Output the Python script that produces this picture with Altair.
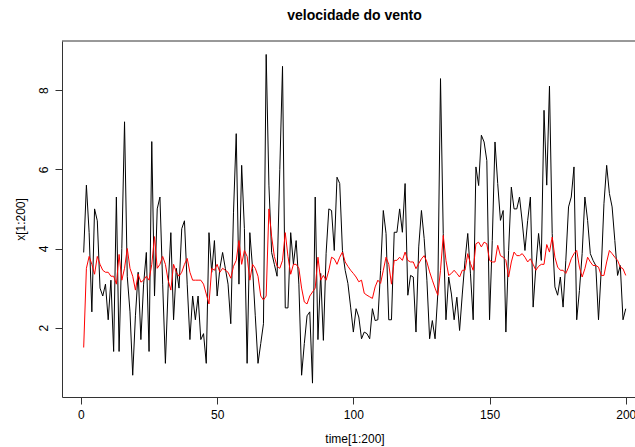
import altair as alt
import pandas as pd

# ---- data ----
time = list(range(1, 201))

wind = [
    3.9, 5.6, 4.4, 2.4, 5.0, 4.7, 3.0, 2.8, 3.1, 2.2,
    3.2, 1.4, 5.3, 1.4, 4.0, 7.2, 3.3, 2.4, 0.8, 2.3,
    3.4, 1.7, 3.1, 3.9, 1.4, 6.7, 2.8, 5.0, 5.3, 3.1,
    1.1, 3.0, 4.4, 2.2, 3.5, 3.0, 4.5, 4.7, 3.1, 1.7,
    2.8, 2.2, 2.8, 1.7, 1.85, 1.1, 4.4, 3.4, 4.2, 2.8,
    3.5, 3.9, 3.5, 3.1, 2.1, 4.9, 6.9, 3.1, 6.1, 4.5,
    1.1, 4.4, 3.5, 2.3, 1.1, 1.6, 2.1, 8.9, 5.6, 3.9,
    3.6, 3.3, 6.0, 8.6, 2.5, 2.5, 4.4, 3.6, 4.2, 3.1,
    0.8, 1.6, 2.3, 2.4, 0.6, 5.3, 1.7, 3.37, 1.68, 3.88,
    5.0, 4.96, 3.95, 5.8, 5.64, 3.95, 3.45, 3.12, 2.52, 1.89,
    2.48, 2.27, 1.72, 1.89, 1.85, 1.72, 2.48, 2.18, 2.2, 3.45,
    4.96, 4.38, 2.2, 2.2, 4.41, 4.41, 5.0, 4.41, 5.64, 2.82,
    3.32, 3.28, 1.89, 4.04, 4.96, 4.25, 3.2, 1.72, 2.18, 1.72,
    2.85, 8.29, 4.38, 2.2, 3.28, 2.85, 2.2, 2.77, 1.93, 2.85,
    3.7, 4.38, 3.36, 2.2, 6.06, 5.59, 6.86, 6.69, 6.22, 2.2,
    4.2, 6.69, 5.64, 4.71, 4.96, 1.89, 3.95, 5.55, 5.0, 5.0,
    5.3, 4.67, 3.95, 4.71, 5.3, 2.52, 3.53, 4.38, 3.7, 7.49,
    5.6, 8.1, 4.38, 3.03, 2.82, 3.28, 2.52, 3.7, 5.05, 5.3,
    6.06, 2.2, 2.94, 3.87, 5.3, 4.71, 3.87, 3.7, 3.57, 2.2,
    3.45, 5.13, 6.1, 5.39, 5.05, 4.2, 3.32, 3.57, 2.2, 2.48,
]

smooth = [
    1.5, 3.5, 3.8, 3.6, 3.35, 3.8, 3.6, 3.45, 3.4, 3.4,
    3.3, 3.3, 3.1, 3.85, 3.2, 3.5, 4.0, 3.5, 3.3, 2.95,
    3.35, 3.15, 3.2, 3.3, 3.2, 3.6, 4.3, 3.5, 3.6, 3.8,
    3.6, 3.2, 2.95, 3.6, 3.4, 3.3, 3.4, 3.6, 3.75, 3.4,
    3.2, 3.2, 3.2, 3.2, 3.1, 2.85, 2.6, 3.5, 3.45, 3.6,
    3.4, 3.5, 3.45, 3.4, 3.25, 3.55, 3.7, 4.2, 3.6, 3.95,
    3.8, 3.2, 3.6, 3.5, 3.3, 2.8, 2.7, 2.8, 5.0, 4.3,
    3.8, 3.55, 3.5, 3.7, 4.4, 3.8, 3.35, 3.6, 3.6, 3.5,
    3.0, 2.65, 2.6, 2.8, 2.9, 3.0, 3.78, 3.2, 3.32, 3.2,
    3.45, 3.78, 3.74, 3.6, 3.78, 3.91, 3.66, 3.55, 3.45, 3.37,
    3.28, 3.16, 3.2, 2.87, 2.82, 2.78, 2.74, 3.03, 3.2, 3.12,
    3.45, 3.78, 3.6, 3.1, 3.7, 3.7, 3.78, 3.7, 3.91, 3.7,
    3.66, 3.66, 3.49, 3.62, 3.74, 3.82, 3.66, 3.41, 3.2, 3.0,
    2.82, 3.45, 4.33, 3.7, 3.32, 3.37, 3.45, 3.37, 3.28, 3.45,
    3.45, 3.87, 3.62, 3.45, 4.12, 4.16, 4.04, 4.16, 4.12, 3.7,
    3.66, 3.66, 4.08, 3.82, 3.78, 3.7, 3.28, 3.66, 3.91, 3.82,
    3.82, 3.87, 3.78, 3.66, 3.74, 3.6, 3.45, 3.55, 3.6, 3.6,
    4.1, 3.91, 4.29, 3.78, 3.53, 3.45, 3.45, 3.37, 3.53, 3.74,
    3.87, 3.95, 3.53, 3.28, 3.49, 3.78, 3.66, 3.57, 3.57, 3.53,
    3.32, 3.32, 3.66, 3.95, 3.87, 3.78, 3.7, 3.53, 3.49, 3.32,
]

x_ticks = [0, 50, 100, 150, 200]
y_ticks = [2, 4, 6, 8]
title_text = "velocidade do vento"
x_title = "time[1:200]"
y_title = "x[1:200]"

FONT = "Liberation Sans"
W, H = 573, 356

df = pd.DataFrame({"t": time, "wind": wind, "smooth": smooth})

xs = alt.Scale(domain=[-6.96, 203.4], nice=False, zero=False)
ys = alt.Scale(domain=[0.25, 9.24], nice=False, zero=False)

x_axis = alt.Axis(
    values=x_ticks, title=x_title, grid=False, format="d",
    domainColor="#333", tickColor="#333", tickSize=7, tickWidth=1,
    labelFont=FONT, labelFontSize=12, labelColor="black", labelPadding=5,
    labelFlush=False, labelOverlap=False,
    titleFont=FONT, titleFontSize=12, titleFontWeight="normal", titleColor="black",
    titleX=292.5, titleY=41.5, titleAlign="center", titleBaseline="middle",
)
y_axis = alt.Axis(
    values=y_ticks, title=y_title, grid=False, format="d",
    domainColor="#333", tickColor="#333", tickSize=7, tickWidth=1,
    labelFont=FONT, labelFontSize=12, labelColor="black", labelPadding=5,
    labelAngle=270, labelAlign="center", labelBaseline="bottom",
    labelFlush=False, labelOverlap=False,
    titleFont=FONT, titleFontSize=12, titleFontWeight="normal", titleColor="black",
    titleX=-42, titleY=178, titleAngle=270, titleAlign="center", titleBaseline="middle",
)

base = alt.Chart(df)
black = base.mark_line(color="black", strokeWidth=1).encode(
    x=alt.X("t:Q", scale=xs, axis=x_axis),
    y=alt.Y("wind:Q", scale=ys, axis=y_axis),
)
red = base.mark_line(color="red", strokeWidth=1).encode(
    x=alt.X("t:Q", scale=xs),
    y=alt.Y("smooth:Q", scale=ys),
)

one = pd.DataFrame({"label": [title_text]})
top_line = alt.Chart(one).mark_rule(color="#333", strokeWidth=1).encode(
    x=alt.value(0), x2=alt.value(W), y=alt.value(0)
)
title = alt.Chart(one).mark_text(
    font=FONT, fontSize=14, fontWeight="bold", color="black",
    align="center", baseline="middle",
).encode(text="label:N", x=alt.value(292.5), y=alt.value(-25))

chart = (
    alt.layer(black, red, top_line, title)
    .properties(
        width=W, height=H,
        autosize=alt.AutoSizeParams(type="none"),
        padding={"left": 62, "top": 41, "right": 0, "bottom": 50},
        background="white",
    )
    .configure_view(stroke=None)
)

chart.save("out.html", embed_options={"renderer": "svg", "actions": False})
